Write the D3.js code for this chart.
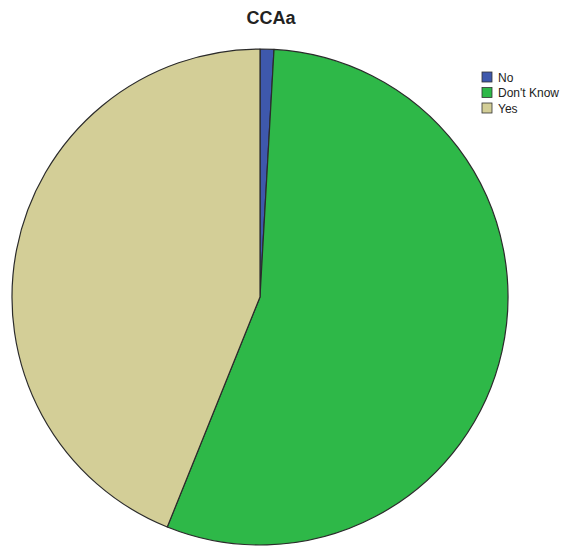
<!DOCTYPE html>
<html>
<head>
<meta charset="utf-8">
<script src="https://cdn.jsdelivr.net/npm/d3@7"></script>
<style>
  body { margin: 0; background: #fff; }
  text { font-family: "Liberation Sans", Arial, sans-serif; }
</style>
</head>
<body>
<div id="chart"></div>
<script>
// CCAa responses, percent of total
const categories = ["No", "Don't Know", "Yes"];
const values = [0.9, 55.2, 43.9];
const colors = ["#3e58ac", "#2eb848", "#d3ce97"];

const width = 566, height = 546;
const cx = 260, cy = 297, radius = 248;

const svg = d3.select("#chart")
    .append("svg")
    .attr("width", width)
    .attr("height", height);

svg.append("text")
    .attr("x", 271)
    .attr("y", 24)
    .attr("text-anchor", "middle")
    .style("font-size", "18px")
    .style("font-weight", "bold")
    .attr("fill", "#222")
    .text("CCAa");

const color = d3.scaleOrdinal().domain(categories).range(colors);

const pie = d3.pie().sort(null).value((d) => d.value);
const arc = d3.arc().innerRadius(0).outerRadius(radius);

const data = categories.map((c, i) => ({ name: c, value: values[i] }));

svg.append("g")
    .attr("transform", "translate(" + cx + "," + cy + ")")
    .selectAll("path")
    .data(pie(data))
    .enter()
    .append("path")
    .attr("d", arc)
    .attr("fill", (d) => color(d.data.name))
    .attr("stroke", "#2b2b2b")
    .attr("stroke-width", 1.2)
    .attr("stroke-linejoin", "round");

// legend
const legend = svg.append("g")
    .attr("transform", "translate(482,72)");

const rows = legend.selectAll("g")
    .data(categories)
    .enter()
    .append("g")
    .attr("transform", (d, i) => "translate(0," + (i * 15.5) + ")");

rows.append("rect")
    .attr("width", 10)
    .attr("height", 10)
    .attr("fill", (d) => color(d))
    .attr("stroke", "#333")
    .attr("stroke-width", 0.8);

rows.append("text")
    .attr("x", 16)
    .attr("y", 9.5)
    .style("font-size", "12px")
    .attr("fill", "#222")
    .text((d) => d);
</script>
</body>
</html>
